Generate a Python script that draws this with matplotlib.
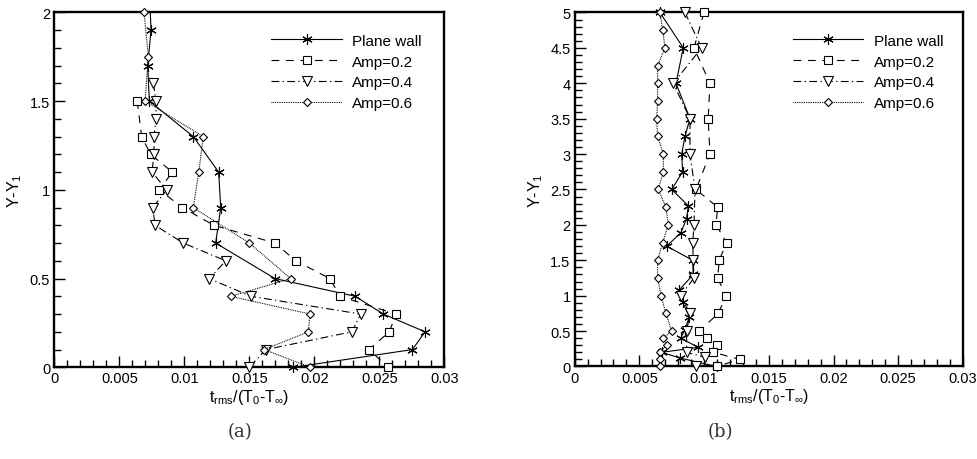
import matplotlib
matplotlib.use("Agg")
import matplotlib.pyplot as plt
from matplotlib.ticker import MultipleLocator, StrMethodFormatter

plt.rcParams['font.family'] = ['Liberation Sans', 'DejaVu Sans']
plt.rcParams['mathtext.fontset'] = 'custom'
plt.rcParams['mathtext.rm'] = 'Liberation Sans'
plt.rcParams['mathtext.it'] = 'Liberation Sans:italic'

labels = ['Plane wall', 'Amp=0.2', 'Amp=0.4', 'Amp=0.6']

# (a) near-wall profiles
a_plane_y = [2.0, 1.9, 1.7, 1.5, 1.3, 1.1, 0.9, 0.7, 0.5, 0.4, 0.3, 0.2, 0.1, 0.0]
a_plane_x = [0.00738, 0.00744, 0.00718, 0.00731, 0.01069, 0.01264, 0.0128, 0.01241,
             0.01698, 0.02315, 0.02531, 0.02852, 0.02754, 0.01838]
a_amp02_y = [1.5, 1.3, 1.2, 1.1, 1.0, 0.9, 0.8, 0.7, 0.6, 0.5, 0.4, 0.3, 0.2, 0.1, 0.0]
a_amp02_x = [0.00638, 0.00672, 0.00741, 0.00908, 0.00808, 0.00985, 0.01228, 0.01698,
             0.01857, 0.0212, 0.02198, 0.02628, 0.02577, 0.0242, 0.02569]
a_amp04_y = [1.6, 1.5, 1.4, 1.3, 1.2, 1.1, 1.0, 0.9, 0.8, 0.7, 0.6, 0.5, 0.4, 0.3, 0.2, 0.1, 0.0]
a_amp04_x = [0.00762, 0.00782, 0.00782, 0.00767, 0.00767, 0.00751, 0.00865, 0.00757,
             0.00775, 0.00992, 0.0132, 0.0119, 0.01513, 0.02357, 0.02288, 0.01626, 0.0150]
a_amp06_y = [2.0, 1.75, 1.5, 1.3, 1.1, 0.9, 0.7, 0.5, 0.4, 0.3, 0.2, 0.1, 0.0]
a_amp06_x = [0.0069, 0.00723, 0.00698, 0.01146, 0.01111, 0.01069, 0.0150, 0.01818,
             0.01357, 0.01967, 0.01954, 0.01613, 0.0197]

# (b) full-height profiles
b_plane_y = [5.0, 4.5, 4.0, 3.5, 3.25, 3.0, 2.75, 2.5, 2.27, 2.09, 1.89, 1.70, 1.5, 1.3,
             1.08, 0.91, 0.70, 0.51, 0.40, 0.27, 0.2, 0.12, 0.0]
b_plane_x = [0.00659, 0.00839, 0.00783, 0.00891, 0.00852, 0.00827, 0.00834, 0.0075,
             0.00878, 0.00865, 0.00821, 0.00711, 0.00912, 0.00916, 0.00808, 0.00834,
             0.00886, 0.0085, 0.00819, 0.00955, 0.00672, 0.00813, 0.01097]
b_amp02_y = [5.0, 4.5, 4.0, 3.5, 3.0, 2.5, 2.25, 2.0, 1.75, 1.5, 1.25, 1.0, 0.75, 0.5,
             0.4, 0.3, 0.2, 0.1, 0.0]
b_amp02_x = [0.00999, 0.00922, 0.01045, 0.01032, 0.01045, 0.00937, 0.01105, 0.01092,
             0.01174, 0.01117, 0.01105, 0.01169, 0.0111, 0.00963, 0.0102, 0.01097,
             0.01071, 0.01277, 0.01097]
b_amp04_y = [5.0, 4.5, 4.0, 3.5, 3.0, 2.5, 2.0, 1.75, 1.5, 1.25, 1.0, 0.75, 0.5, 0.2, 0.13, 0.0]
b_amp04_x = [0.00852, 0.00981, 0.00762, 0.00891, 0.00891, 0.0093, 0.00922, 0.00912,
             0.00916, 0.00922, 0.00819, 0.00891, 0.00865, 0.00865, 0.01007, 0.00937]
b_amp06_y = [5.0, 4.75, 4.5, 4.25, 4.0, 3.75, 3.5, 3.25, 3.0, 2.75, 2.5, 2.25, 2.0, 1.75,
             1.5, 1.25, 1.0, 0.75, 0.5, 0.4, 0.3, 0.2, 0.1, 0.0]
b_amp06_x = [0.00659, 0.0068, 0.00698, 0.00641, 0.00641, 0.00641, 0.00633, 0.00641,
             0.00685, 0.00685, 0.00646, 0.00705, 0.00723, 0.0068, 0.00641, 0.00641,
             0.00667, 0.00705, 0.00749, 0.00685, 0.0071, 0.0066, 0.0066, 0.0066]

styles = [
    dict(ls='-', marker=(6, 2, 0), ms=7.5, mfc='black'),
    dict(ls=(0, (7, 6)), marker='s', ms=5.5, mfc='white'),
    dict(ls=(0, (7, 3, 1.2, 3)), marker='v', ms=6.5, mfc='white'),
    dict(ls=(0, (0.8, 0.8)), marker='D', ms=4.5, mfc='white'),
]

fig = plt.figure(figsize=(9.77, 4.6), dpi=100)
ax1 = fig.add_axes([0.0556, 0.1993, 0.3992, 0.7717])
ax2 = fig.add_axes([0.5882, 0.2011, 0.3974, 0.7696])

panels = [
    (ax1, [(a_plane_x, a_plane_y), (a_amp02_x, a_amp02_y), (a_amp04_x, a_amp04_y),
           (a_amp06_x, a_amp06_y)], 2, 0.5566),
    (ax2, [(b_plane_x, b_plane_y), (b_amp02_x, b_amp02_y), (b_amp04_x, b_amp04_y),
           (b_amp06_x, b_amp06_y)], 5, 0.5625),
]

for ax, series, ytop, legx in panels:
    for i, (xs, ys) in enumerate(series):
        st = styles[i]
        every = None
        if ax is ax1 and i == 0:
            every = slice(1, None)
        ax.plot(xs, ys, color='black', lw=0.8, ls=st['ls'], marker=st['marker'],
                ms=st['ms'], mfc=st['mfc'], mec='black', mew=0.8,
                markevery=every, label=labels[i], clip_on=False, zorder=3 + i)
    ax.set_xlim(0, 0.03)
    ax.set_ylim(0, ytop)
    ax.xaxis.set_major_locator(MultipleLocator(0.005))
    ax.xaxis.set_minor_locator(MultipleLocator(0.001))
    ax.yaxis.set_major_locator(MultipleLocator(0.5))
    ax.yaxis.set_minor_locator(MultipleLocator(0.1))
    ax.xaxis.set_major_formatter(StrMethodFormatter('{x:g}'))
    ax.yaxis.set_major_formatter(StrMethodFormatter('{x:g}'))
    ax.tick_params(which='both', direction='in', top=False, right=False,
                   labelsize=10.5, width=1.0, pad=3)
    ax.tick_params(which='major', length=8)
    ax.tick_params(which='minor', length=5)
    for sp in ax.spines.values():
        sp.set_linewidth(1.7)
    ax.set_xlabel(r'$\mathregular{t_{rms}/(T_0}$-$\mathregular{T_\infty)}$',
                  fontsize=11.5, labelpad=1)
    ax.set_ylabel(r'Y-Y$\mathregular{_1}$', fontsize=11.5, labelpad=4)
    ax.legend(loc='upper left', bbox_to_anchor=(legx, 0.94), frameon=False,
              fontsize=11, handlelength=4.6, handletextpad=0.7, labelspacing=0.45,
              borderpad=0, borderaxespad=0, numpoints=1)

fig.text(0.2456, 0.061, '(a)', ha='center', va='center', fontsize=13,
         family='DejaVu Serif', color='#333333')
fig.text(0.737, 0.061, '(b)', ha='center', va='center', fontsize=13,
         family='DejaVu Serif', color='#333333')

fig.savefig('out.png', dpi=100)
